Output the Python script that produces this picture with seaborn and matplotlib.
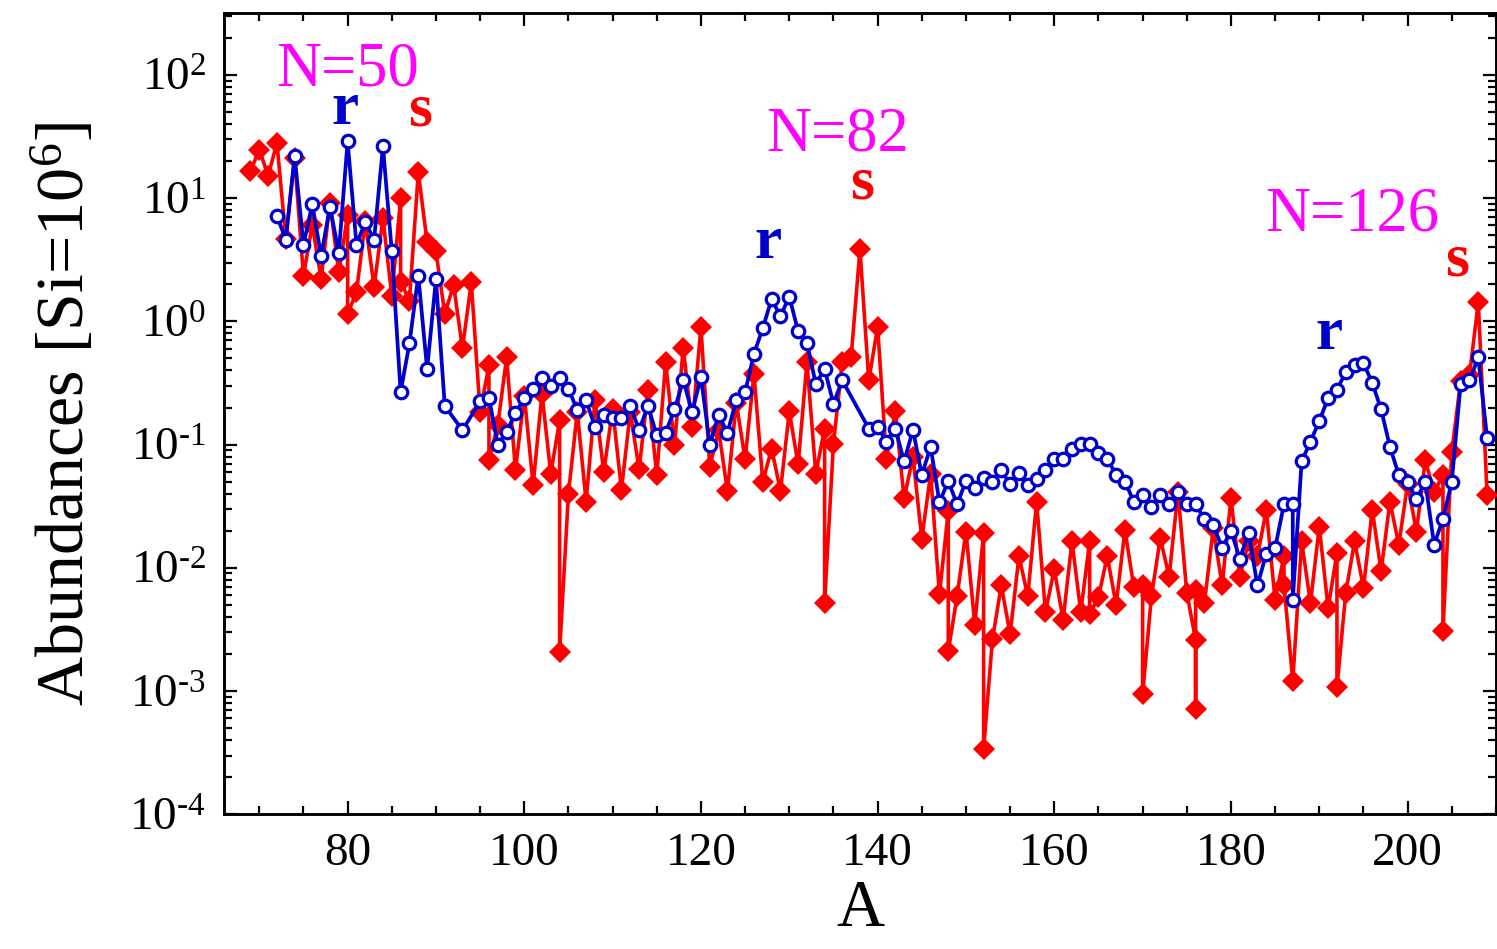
import matplotlib
matplotlib.use('Agg')
import matplotlib.pyplot as plt
import seaborn as sns
import numpy as np
import pandas as pd
from matplotlib.ticker import LogLocator, MultipleLocator, FuncFormatter, NullFormatter

# ---------------- data ----------------
s_A = [69, 70, 71, 72, 73, 74, 75, 76, 77, 78, 79, 80, 80, 81, 82, 83, 84, 85, 86, 86,
       87, 88, 89, 90, 91, 92, 93, 94, 95, 96, 96, 97, 98, 99, 100, 101, 102, 103, 104, 104,
       105, 106, 107, 108, 109, 110, 111, 112, 113, 114, 115, 116, 117, 118, 119, 120, 121, 122, 123, 124,
       125, 126, 127, 128, 129, 130, 131, 132, 133, 134, 134, 135, 136, 137, 138, 139, 140, 141, 142, 143,
       144, 145, 146, 147, 148, 148, 149, 150, 151, 152, 152, 153, 154, 155, 156, 157, 158, 159, 160, 161,
       162, 163, 164, 164, 165, 166, 167, 168, 169, 170, 170, 171, 172, 173, 174, 175, 176, 176, 176, 177,
       178, 179, 180, 181, 182, 183, 184, 185, 186, 186, 187, 188, 189, 190, 191, 192, 192, 193, 194, 195,
       196, 197, 198, 199, 200, 201, 202, 203, 204, 204, 205, 206, 207, 208, 209]
s_val = [16.5, 24.8, 15.2, 28.0, 4.7, 21.0, 2.34, 6.1, 2.2, 9.2, 2.5, 7.3, 1.15, 1.72, 6.5, 1.9, 6.9, 1.6, 10.0, 2.1,
         1.47, 16.2, 4.4, 3.7, 1.15, 1.97, 0.605, 2.07, 0.184, 0.44, 0.075, 0.144, 0.51, 0.062, 0.25, 0.047, 0.259, 0.058, 0.157, 0.00207,
         0.040, 0.184, 0.0345, 0.229, 0.060, 0.196, 0.043, 0.184, 0.063, 0.275, 0.0566, 0.467, 0.100, 0.605, 0.139, 0.895, 0.066, 0.131, 0.042, 0.219,
         0.076, 0.376, 0.050, 0.093, 0.042, 0.186, 0.069, 0.467, 0.058, 0.135, 0.0052, 0.102, 0.467, 0.51, 3.85, 0.332, 0.90, 0.077, 0.186, 0.0366,
         0.080, 0.0172, 0.058, 0.0061, 0.029, 0.00211, 0.0059, 0.0197, 0.00347, 0.0191, 0.00034, 0.00263, 0.0072, 0.0029, 0.0124, 0.0059, 0.0345, 0.0044, 0.0097, 0.0038,
         0.0164, 0.0044, 0.0164, 0.0042, 0.0058, 0.0124, 0.0050, 0.0203, 0.0070, 0.0073, 0.00094, 0.0059, 0.0174, 0.0085, 0.041, 0.0063, 0.0026, 0.00071, 0.0066, 0.0052,
         0.021, 0.0072, 0.0366, 0.0085, 0.0164, 0.0124, 0.0295, 0.0055, 0.0124, 0.0073, 0.00121, 0.0164, 0.0052, 0.0216, 0.0047, 0.0132, 0.00107, 0.0063, 0.0164, 0.0069,
         0.0295, 0.0094, 0.0345, 0.0154, 0.048, 0.0197, 0.075, 0.041, 0.0566, 0.0031, 0.0875, 0.326, 0.364, 1.43, 0.039]

r_A = [72, 73, 74, 75, 76, 77, 78, 79, 80, 81, 82, 83, 84, 85, 86, 87, 88, 89, 90, 91,
       93, 95, 96, 97, 98, 99, 100, 101, 102, 103, 104, 105, 106, 107, 108, 109, 110, 111, 112, 113,
       114, 115, 116, 117, 118, 119, 120, 121, 122, 123, 124, 125, 126, 127, 128, 129, 130, 131, 132, 133,
       134, 135, 136, 139, 140, 141, 142, 143, 144, 145, 146, 147, 148, 149, 150, 151, 152, 153, 154, 155,
       156, 157, 158, 159, 160, 161, 162, 163, 164, 165, 166, 167, 168, 169, 170, 171, 172, 173, 174, 175,
       176, 177, 178, 179, 180, 181, 182, 183, 184, 185, 186, 187, 187, 188, 189, 190, 191, 192, 193, 194,
       195, 196, 197, 198, 199, 200, 201, 202, 203, 204, 205, 206, 207, 208, 209]
r_val = [7.2, 4.6, 22.0, 4.2, 8.9, 3.4, 8.5, 3.6, 28.9, 4.2, 6.4, 4.6, 26.3, 3.7, 0.267, 0.665, 2.34, 0.41, 2.2, 0.206,
         0.131, 0.224, 0.24, 0.100, 0.127, 0.18, 0.24, 0.284, 0.35, 0.30, 0.35, 0.284, 0.19, 0.229, 0.139, 0.175, 0.163, 0.165, 0.206, 0.131,
         0.206, 0.119, 0.125, 0.193, 0.332, 0.184, 0.353, 0.10, 0.173, 0.125, 0.229, 0.267, 0.545, 0.88, 1.52, 1.10, 1.59, 0.83, 0.67, 0.31,
         0.41, 0.215, 0.332, 0.135, 0.139, 0.106, 0.135, 0.073, 0.132, 0.0566, 0.096, 0.034, 0.0506, 0.0328, 0.0506, 0.0448, 0.0532, 0.050, 0.062, 0.0475,
         0.059, 0.047, 0.053, 0.062, 0.077, 0.077, 0.093, 0.102, 0.102, 0.086, 0.077, 0.0566, 0.050, 0.0345, 0.039, 0.031, 0.039, 0.0328, 0.041, 0.0328,
         0.0328, 0.0249, 0.0223, 0.0145, 0.020, 0.0119, 0.0191, 0.0072, 0.013, 0.0145, 0.0328, 0.0328, 0.0055, 0.073, 0.106, 0.155, 0.239, 0.28, 0.387, 0.44,
         0.46, 0.316, 0.193, 0.096, 0.0566, 0.050, 0.036, 0.050, 0.0154, 0.0249, 0.050, 0.31, 0.332, 0.51, 0.113]

# annotations: (text, A, value, colour key)
note_text = ["N=50", "r", "s", "N=82", "s", "r", "N=126", "s", "r"]
note_A = [80.0, 79.7, 88.2, 135.5, 138.2, 127.6, 193.7, 205.6, 191.1]
note_val = [108, 53, 51, 32.2, 13.2, 4.3, 7.2, 3.1, 0.79]
note_kind = ["N", "r", "s", "N", "s", "r", "N", "s", "r"]

x_ticks = [80, 100, 120, 140, 160, 180, 200]

RED = "#ff0000"
BLUE = "#0000cc"
MAGENTA = "#ff00ff"

# ---------------- style ----------------
sns.set_theme(style="ticks")
plt.rcParams['font.family'] = ['Liberation Serif', 'DejaVu Serif']
plt.rcParams['mathtext.fontset'] = 'custom'
plt.rcParams['mathtext.rm'] = 'Liberation Serif'
plt.rcParams['mathtext.it'] = 'Liberation Serif:italic'
plt.rcParams['mathtext.bf'] = 'Liberation Serif:bold'
for k in ['text.color', 'axes.labelcolor', 'xtick.color', 'ytick.color', 'axes.edgecolor']:
    plt.rcParams[k] = 'black'

fig = plt.figure(figsize=(14.97, 9.49), dpi=100)
ax = fig.add_axes([0.1496, 0.1419, 0.8497, 0.8441])
ax.set_yscale('log')

s_df = pd.DataFrame({"A": s_A, "abund": s_val})
r_df = pd.DataFrame({"A": r_A, "abund": r_val})

sns.lineplot(data=s_df, x="A", y="abund", estimator=None, sort=False, ax=ax,
             color=RED, lw=2.6, marker="D", markersize=11.5,
             markerfacecolor=RED, markeredgecolor=RED, markeredgewidth=0, zorder=3)
sns.lineplot(data=r_df, x="A", y="abund", estimator=None, sort=False, ax=ax,
             color=BLUE, lw=2.7, marker="o", markersize=9.0,
             markerfacecolor="white", markeredgecolor=BLUE, markeredgewidth=2.3, zorder=4)

ax.set_xlim(66, 210)
ax.set_ylim(1e-4, 10 ** 2.5)

ax.set_xticks(x_ticks)
ax.set_xticklabels([str(t) for t in x_ticks])
ax.xaxis.set_minor_locator(MultipleLocator(5))
ax.yaxis.set_major_locator(LogLocator(base=10, numticks=20))
ax.yaxis.set_minor_locator(LogLocator(base=10, subs=np.arange(2, 10), numticks=20))
ax.yaxis.set_minor_formatter(NullFormatter())


def fmt_text(v, p):
    e = int(round(np.log10(v)))
    if e < 0:
        return r'$\mathregular{10^{\text{-}%d}}$' % (-e)
    return r'$\mathregular{10^{%d}}$' % e


def fmt_plain(v, p):
    return r'$\mathregular{10^{%d}}$' % int(round(np.log10(v)))


ax.yaxis.set_major_formatter(FuncFormatter(fmt_text))

ax.tick_params(which='both', direction='in', top=True, right=True, width=1.6,
               color='black', labelcolor='black', labelsize=34, pad=13)
ax.tick_params(which='major', length=9.5)
ax.tick_params(which='minor', length=5.5)
for sp in ax.spines.values():
    sp.set_linewidth(2.1)
    sp.set_color('black')
    sp.set_visible(True)

ax.set_xlabel("A", fontsize=48, labelpad=3, color='black')
ax.set_ylabel(r"Abundances [Si=10$^{6}$]", fontsize=49, labelpad=22, color='black')

for t, a, v, k in zip(note_text, note_A, note_val, note_kind):
    if k == "N":
        ax.text(a, v, t, color=MAGENTA, fontsize=45, ha='center', va='center', zorder=6)
    else:
        ax.text(a, v, t, color=(RED if k == "s" else BLUE), fontsize=44,
                fontweight='bold', ha='center', va='center', zorder=6)

ax.grid(False)

try:
    fig.canvas.draw()
except Exception:
    ax.yaxis.set_major_formatter(FuncFormatter(fmt_plain))

fig.savefig("out.png", dpi=100)
